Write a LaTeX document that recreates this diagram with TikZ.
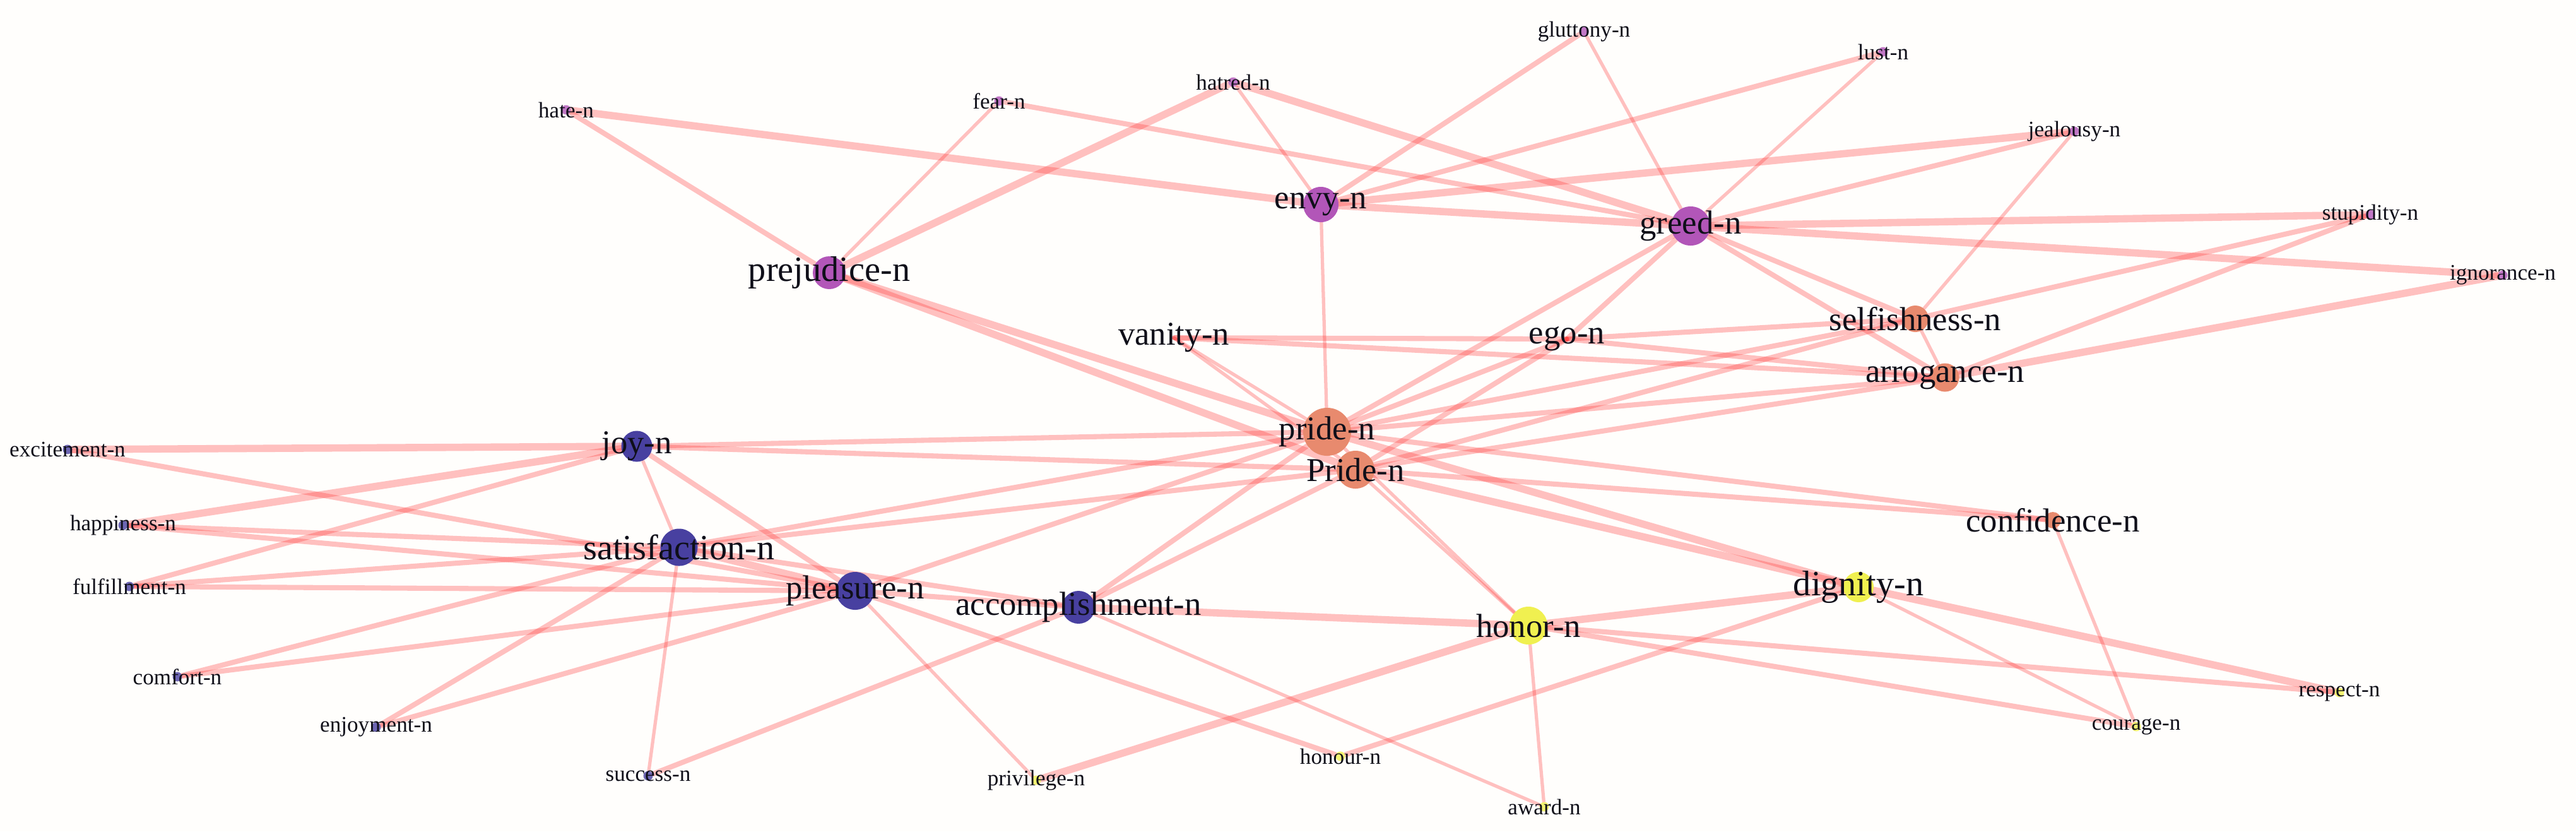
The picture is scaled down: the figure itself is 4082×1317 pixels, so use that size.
\documentclass[tikz,border=0pt]{standalone}
\usepackage{fontspec}
\setmainfont{Liberation Serif}
\usetikzlibrary{backgrounds}
\definecolor{purp}{RGB}{178,86,184}
\definecolor{orng}{RGB}{232,138,110}
\definecolor{blu}{RGB}{72,64,160}
\definecolor{yel}{RGB}{240,240,80}
\definecolor{edgecol}{RGB}{255,51,51}
\definecolor{labcol}{RGB}{15,15,25}
\definecolor{bgcol}{RGB}{255,254,252}
\begin{document}
\begin{tikzpicture}[x=0.01cm,y=-0.01cm,
  vdot/.style={circle, inner sep=0pt, minimum size=#1, draw=none},
  sdot/.style={circle, inner sep=0pt, minimum size=0.15cm, draw=none, fill=#1!80!white},
  big/.style={font=\fontsize{15}{18}\selectfont, inner sep=0pt, text=labcol},
  bigg/.style={font=\fontsize{16}{19}\selectfont, inner sep=0pt, text=labcol},
  sml/.style={font=\fontsize{10}{12}\selectfont, inner sep=0pt, text=labcol},
  ebase/.style={draw=edgecol, draw opacity=0.3, line cap=round},
  ethin/.style={ebase, line width=1.5pt},
  emid/.style={ebase, line width=2.3pt},
  ethick/.style={ebase, line width=3.3pt}]
% ---- nodes ----
\node[sdot=purp, label={[sml]center:hate-n}] (hate) at (897,174) {};
\node[sdot=purp, label={[sml]center:fear-n}] (fear) at (1583,160) {};
\node[sdot=purp, label={[sml]center:hatred-n}] (hatred) at (1954,130) {};
\node[sdot=purp, label={[sml]center:gluttony-n}] (gluttony) at (2510,50) {};
\node[sdot=purp, label={[sml]center:lust-n}] (lust) at (2984,82) {};
\node[sdot=purp, label={[sml]center:jealousy-n}] (jealousy) at (3287,208) {};
\node[sdot=purp, label={[sml]center:stupidity-n}] (stupidity) at (3756,340) {};
\node[sdot=purp, label={[sml]center:ignorance-n}] (ignorance) at (3966,436) {};
\node[vdot=0.56cm, fill=purp, label={[big]center:envy-n}] (envy) at (2093,324) {};
\node[vdot=0.62cm, fill=purp, label={[big]center:greed-n}] (greed) at (2679,358) {};
\node[vdot=0.52cm, fill=purp, label={[bigg]center:prejudice-n}] (prejudice) at (1314,432) {};
\node[vdot=0pt, label={[big]center:vanity-n}] (vanity) at (1860,535) {};
\node[vdot=0pt, label={[big]center:ego-n}] (ego) at (2483,537) {};
\node[vdot=0.42cm, fill=orng, label={[big]center:selfishness-n}] (selfishness) at (3035,505) {};
\node[vdot=0.45cm, fill=orng, label={[big]center:arrogance-n}] (arrogance) at (3082,598) {};
\node[vdot=0.76cm, fill=orng, label={[big]center:pride-n}] (pride) at (2103,684) {};
\node[vdot=0.60cm, fill=orng, label={[big]center:Pride-n}] (Pride) at (2148,744) {};
\node[vdot=0.26cm, fill=orng, label={[big]center:confidence-n}] (confidence) at (3253,824) {};
\node[vdot=0.49cm, fill=blu, label={[big]center:joy-n}] (joy) at (1009,707) {};
\node[sdot=blu, label={[sml]center:excitement-n}] (excitement) at (107,712) {};
\node[sdot=blu, label={[sml]center:happiness-n}] (happiness) at (195,832) {};
\node[sdot=blu, label={[sml]center:fulfillment-n}] (fulfillment) at (205,929) {};
\node[sdot=blu, label={[sml]center:comfort-n}] (comfort) at (281,1072) {};
\node[sdot=blu, label={[sml]center:enjoyment-n}] (enjoyment) at (596,1152) {};
\node[sdot=blu, label={[sml]center:success-n}] (success) at (1027,1229) {};
\node[vdot=0.59cm, fill=blu, label={[bigg]center:satisfaction-n}] (satisfaction) at (1076,867) {};
\node[vdot=0.60cm, fill=blu, label={[big]center:pleasure-n}] (pleasure) at (1355,936) {};
\node[vdot=0.52cm, fill=blu, label={[big]center:accomplishment-n}] (accomplishment) at (1709,962) {};
\node[vdot=0.60cm, fill=yel, label={[big]center:honor-n}] (honor) at (2422,991) {};
\node[sdot=yel, label={[sml]center:honour-n}] (honour) at (2124,1198) {};
\node[sdot=yel, label={[sml]center:privilege-n}] (privilege) at (1642,1236) {};
\node[sdot=yel, label={[sml]center:award-n}] (award) at (2447,1278) {};
\node[vdot=0.48cm, fill=yel, label={[bigg]center:dignity-n}] (dignity) at (2945,930) {};
\node[sdot=yel, label={[sml]center:respect-n}] (respect) at (3707,1097) {};
\node[sdot=yel, label={[sml]center:courage-n}] (courage) at (3385,1151) {};
% ---- edges ----
\begin{pgfonlayer}{background}
\fill[bgcol] (0,0) rectangle (4082,1317);
\useasboundingbox (0,0) rectangle (4082,1317);
% thick
\draw[ethick] (hate) -- (envy);
\draw[ethick] (hatred) -- (greed);
\draw[ethick] (hatred) -- (prejudice);
\draw[ethick] (envy) -- (greed);
\draw[ethick] (jealousy) -- (envy);
\draw[ethick] (stupidity) -- (greed);
\draw[ethick] (ignorance) -- (greed);
\draw[ethick] (ignorance) -- (arrogance);
\draw[ethick] (prejudice) -- (pride);
\draw[ethick] (prejudice) -- (Pride);
\draw[ethick] (excitement) -- (joy);
\draw[ethick] (happiness) -- (joy);
\draw[ethick] (satisfaction) -- (pleasure);
\draw[ethick] (dignity) -- (respect);
\draw[ethick] (privilege) -- (honor);
\draw[ethick] (accomplishment) -- (honor);
\draw[ethick] (honor) -- (dignity);
\draw[ethick] (pride) -- (dignity);
\draw[ethick] (Pride) -- (dignity);
% mid
\draw[emid] (fear) -- (greed);
\draw[emid] (jealousy) -- (greed);
\draw[emid] (lust) -- (envy);
\draw[emid] (hate) -- (prejudice);
\draw[emid] (gluttony) -- (envy);
\draw[emid] (stupidity) -- (selfishness);
\draw[emid] (stupidity) -- (arrogance);
\draw[emid] (greed) -- (selfishness);
\draw[emid] (greed) -- (arrogance);
\draw[emid] (greed) -- (pride);
\draw[emid] (greed) -- (ego);
\draw[emid] (vanity) -- (ego);
\draw[emid] (vanity) -- (arrogance);
\draw[emid] (ego) -- (selfishness);
\draw[emid] (ego) -- (arrogance);
\draw[emid] (ego) -- (pride);
\draw[emid] (ego) -- (Pride);
\draw[emid] (pride) -- (selfishness);
\draw[emid] (Pride) -- (selfishness);
\draw[emid] (pride) -- (arrogance);
\draw[emid] (Pride) -- (arrogance);
\draw[emid] (pride) -- (confidence);
\draw[emid] (Pride) -- (confidence);
\draw[emid] (joy) -- (pride);
\draw[emid] (joy) -- (Pride);
\draw[emid] (satisfaction) -- (pride);
\draw[emid] (satisfaction) -- (Pride);
\draw[emid] (pleasure) -- (pride);
\draw[emid] (accomplishment) -- (pride);
\draw[emid] (accomplishment) -- (Pride);
\draw[emid] (excitement) -- (pleasure);
\draw[emid] (happiness) -- (satisfaction);
\draw[emid] (happiness) -- (pleasure);
\draw[emid] (fulfillment) -- (joy);
\draw[emid] (fulfillment) -- (satisfaction);
\draw[emid] (fulfillment) -- (pleasure);
\draw[emid] (comfort) -- (satisfaction);
\draw[emid] (comfort) -- (pleasure);
\draw[emid] (enjoyment) -- (satisfaction);
\draw[emid] (enjoyment) -- (pleasure);
\draw[emid] (success) -- (accomplishment);
\draw[emid] (satisfaction) -- (accomplishment);
\draw[emid] (pleasure) -- (accomplishment);
\draw[emid] (pleasure) -- (honour);
\draw[emid] (dignity) -- (honour);
\draw[emid] (honor) -- (respect);
\draw[emid] (honor) -- (courage);
\draw[emid] (joy) -- (pleasure);
% thin
\draw[ethin] (envy) -- (pride);
\draw[ethin] (hatred) -- (envy);
\draw[ethin] (gluttony) -- (greed);
\draw[ethin] (lust) -- (greed);
\draw[ethin] (jealousy) -- (selfishness);
\draw[ethin] (confidence) -- (courage);
\draw[ethin] (honor) -- (award);
\draw[ethin] (success) -- (satisfaction);
\draw[ethin] (selfishness) -- (arrogance);
\draw[ethin] (Pride) -- (honor);
\draw[ethin] (pride) -- (honor);
\draw[ethin] (fear) -- (prejudice);
\draw[ethin] (dignity) -- (courage);
\draw[ethin] (vanity) -- (pride);
\draw[ethin] (vanity) -- (Pride);
\draw[ethin] (pleasure) -- (privilege);
\draw[ethin] (accomplishment) -- (award);
\draw[ethin] (joy) -- (satisfaction);
\end{pgfonlayer}
\end{tikzpicture}
\end{document}
